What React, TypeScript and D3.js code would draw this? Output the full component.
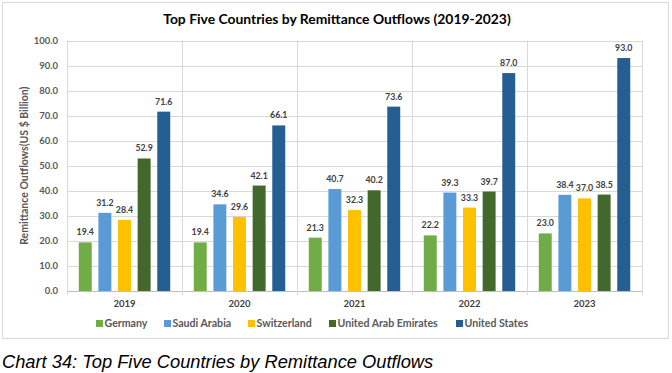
import React from 'react';
import * as d3 from 'd3';

const years = ['2019', '2020', '2021', '2022', '2023'];
const countries = ['Germany', 'Saudi Arabia', 'Switzerland', 'United Arab Emirates', 'United States'];
const germany = [19.4, 19.4, 21.3, 22.2, 23.0];
const saudiArabia = [31.2, 34.6, 40.7, 39.3, 38.4];
const switzerland = [28.4, 29.6, 32.3, 33.3, 37.0];
const uae = [52.9, 42.1, 40.2, 39.7, 38.5];
const unitedStates = [71.6, 66.1, 73.6, 87.0, 93.0];
const yTicks = [0, 10, 20, 30, 40, 50, 60, 70, 80, 90, 100];
const colors = ['#70AD47', '#5B9BD5', '#FFC000', '#43682B', '#255E91'];

const series = [germany, saudiArabia, switzerland, uae, unitedStates];

const W = 672;
const H = 373;
const margin = { top: 40.5, right: 30, bottom: 82, left: 67 };
const font = 'Lato, "Open Sans", sans-serif';

export default function App() {
  const x = d3
    .scaleBand()
    .domain(years)
    .range([margin.left, W - margin.right])
    .paddingInner(0)
    .paddingOuter(0);

  const inner = d3
    .scaleBand()
    .domain(countries)
    .range([0, x.bandwidth()])
    .paddingInner(0.34)
    .paddingOuter(0.6);

  const y = d3.scaleLinear().domain([0, 100]).range([H - margin.bottom, margin.top]);

  // legend swatch positions, left edge
  const legendX = [96, 164, 248, 329, 456];

  return (
    <svg
      width={W}
      height={H}
      style={{ position: 'absolute', left: 0, top: 0, background: '#fff' }}
      fontFamily={font}
    >
      <rect x={2.5} y={2.5} width={666} height={336} fill="#fff" stroke="#D9D9D9" />
      <text x={337} y={24} textAnchor="middle" fontSize={13.9} fontWeight="bold" fill="#000">
        Top Five Countries by Remittance Outflows (2019-2023)
      </text>

      {/* horizontal gridlines */}
      {yTicks.map((t) => (
        <line
          key={t}
          x1={margin.left}
          x2={W - margin.right}
          y1={Math.round(y(t)) + 0.5}
          y2={Math.round(y(t)) + 0.5}
          stroke={t === 0 ? '#BFBFBF' : '#D9D9D9'}
        />
      ))}
      {/* vertical category lines */}
      {[...years.map((yr) => x(yr)!), W - margin.right].map((v, i) => (
        <line
          key={i}
          x1={Math.round(v) + 0.5}
          x2={Math.round(v) + 0.5}
          y1={margin.top}
          y2={y(0) + 4}
          stroke="#D9D9D9"
        />
      ))}

      {yTicks.map((t) => (
        <text
          key={t}
          x={58}
          y={y(t)}
          dy="0.35em"
          textAnchor="end"
          fontSize={9.5}
          fontWeight="bold"
          fill="#595959"
        >
          {t.toFixed(1)}
        </text>
      ))}

      <text
        transform={`translate(28,${(y(0) + y(100)) / 2}) rotate(-90)`}
        textAnchor="middle"
        fontSize={10.5}
        fontWeight="bold"
        fill="#595959"
      >
        Remittance Outflows(US $ Billion)
      </text>

      {years.map((yr, yi) => (
        <g key={yr}>
          {series.map((s, si) => {
            const bx = x(yr)! + inner(countries[si])!;
            const v = s[yi];
            return (
              <g key={si}>
                <rect
                  x={bx}
                  y={y(v)}
                  width={inner.bandwidth()}
                  height={y(0) - y(v)}
                  fill={colors[si]}
                />
                <text
                  x={bx + inner.bandwidth() / 2}
                  y={y(v) - 7}
                  textAnchor="middle"
                  fontSize={8.8}
                  fontWeight="bold"
                  fill="#404040"
                >
                  {v.toFixed(1)}
                </text>
              </g>
            );
          })}
          <text
            x={x(yr)! + x.bandwidth() / 2}
            y={307}
            textAnchor="middle"
            fontSize={9.5}
            fontWeight="bold"
            fill="#404040"
          >
            {yr}
          </text>
        </g>
      ))}

      {countries.map((c, i) => (
        <g key={c} transform={`translate(${legendX[i]},0)`}>
          <rect x={0} y={320} width={7} height={7} fill={colors[i]} />
          <text x={8.5} y={327.3} fontSize={10.6} fontWeight="bold" fill="#595959">
            {c}
          </text>
        </g>
      ))}

      <text
        x={2}
        y={368}
        fontFamily='"Liberation Sans", Arial, sans-serif'
        fontStyle="italic"
        fontSize={18.3}
        fill="#000"
      >
        Chart 34: Top Five Countries by Remittance Outflows
      </text>
    </svg>
  );
}
